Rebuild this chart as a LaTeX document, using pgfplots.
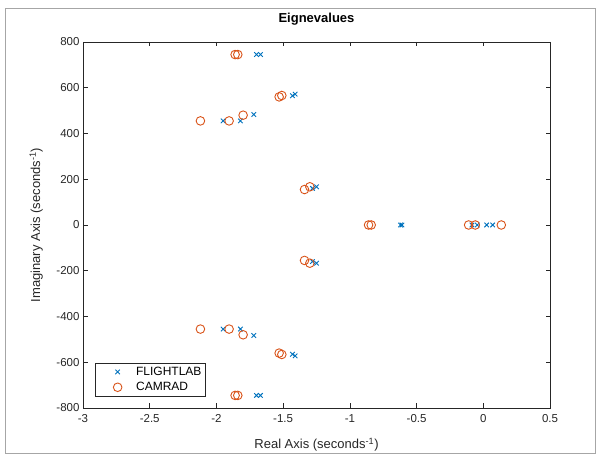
\documentclass[border=0pt]{standalone}
\usepackage{pgfplots}
\pgfplotsset{compat=1.18}
\usepackage{fontspec}
\setmainfont{Liberation Sans}
\definecolor{mblue}{rgb}{0,0.447,0.741}
\definecolor{morange}{rgb}{0.85,0.325,0.098}
\definecolor{mgray}{rgb}{0.15,0.15,0.15}
\begin{document}
\begin{tikzpicture}[x=1bp,y=1bp]
\useasboundingbox (0,0) rectangle (597,455);
\draw[gray!70,line width=0.8bp] (5,2) rectangle (595,447);
\begin{axis}[
  at={(83bp,47bp)}, anchor=south west,
  scale only axis, width=467bp, height=366bp,
  xmin=-3, xmax=0.5, ymin=-800, ymax=800,
  xtick={-3,-2.5,...,0.5}, ytick={-800,-600,...,800},
  tick align=inside, tick pos=both,
  major tick length=4.5bp,
  axis line style={mgray, line width=0.6bp},
  every tick/.style={mgray, line width=0.6bp},
  /pgf/number format/assume math mode=true,
  /pgf/number format/fixed,
  tick label style={font=\fontsize{11.5bp}{13bp}\selectfont, mgray},
  xticklabel style={yshift=-3bp},
  title={\textbf{Eignevalues}},
  title style={at={(axis description cs:0.5,1.045)}, anchor=center,
    font=\fontsize{13bp}{15bp}\selectfont},
  xlabel={Real Axis (seconds\textsuperscript{-1})},
  ylabel={Imaginary Axis (seconds\textsuperscript{-1})},
  label style={font=\fontsize{13bp}{15bp}\selectfont, mgray},
  xlabel style={at={(axis description cs:0.5,-0.1)}, anchor=center},
  ylabel style={at={(axis description cs:-0.1,0.5)}, anchor=center},
  legend style={at={(0.0257,0.033)}, anchor=south west, draw=mgray,
    font=\fontsize{12bp}{14bp}\selectfont, inner xsep=2bp, inner ysep=1.5bp,
    row sep=1.5bp, cells={anchor=west}},
  legend cell align=left,
  legend image code/.code={\path (0bp,0bp) (36bp,0bp); \draw[#1] plot coordinates {(20bp,0bp)};},
]
\addplot[only marks, mark=x, mark size=3.2bp, color=mblue, line width=0.9bp] coordinates {
(-1.70,745) (-1.67,745) (-1.70,-745) (-1.67,-745)
(-1.43,565) (-1.41,572) (-1.43,-565) (-1.41,-572)
(-1.95,455) (-1.82,455) (-1.72,483)
(-1.95,-455) (-1.82,-455) (-1.72,-483)
(-1.28,160) (-1.25,167) (-1.28,-160) (-1.25,-167)
(-0.62,0) (-0.61,0)
(-0.085,0) (-0.045,0) (0.025,0) (0.07,0)
};
\addlegendentry{FLIGHTLAB}
\addplot[only marks, mark=o, mark size=4.3bp, color=morange, line width=0.9bp] coordinates {
(-1.86,745) (-1.84,745) (-1.86,-745) (-1.84,-745)
(-1.53,560) (-1.51,566) (-1.53,-560) (-1.51,-566)
(-2.12,455) (-1.905,455) (-1.80,480)
(-2.12,-455) (-1.905,-455) (-1.80,-480)
(-1.34,155) (-1.30,167) (-1.34,-155) (-1.30,-167)
(-0.86,0) (-0.84,0)
(-0.11,0) (-0.06,0) (0.135,0)
};
\addlegendentry{CAMRAD}
\end{axis}
\end{tikzpicture}
\end{document}
